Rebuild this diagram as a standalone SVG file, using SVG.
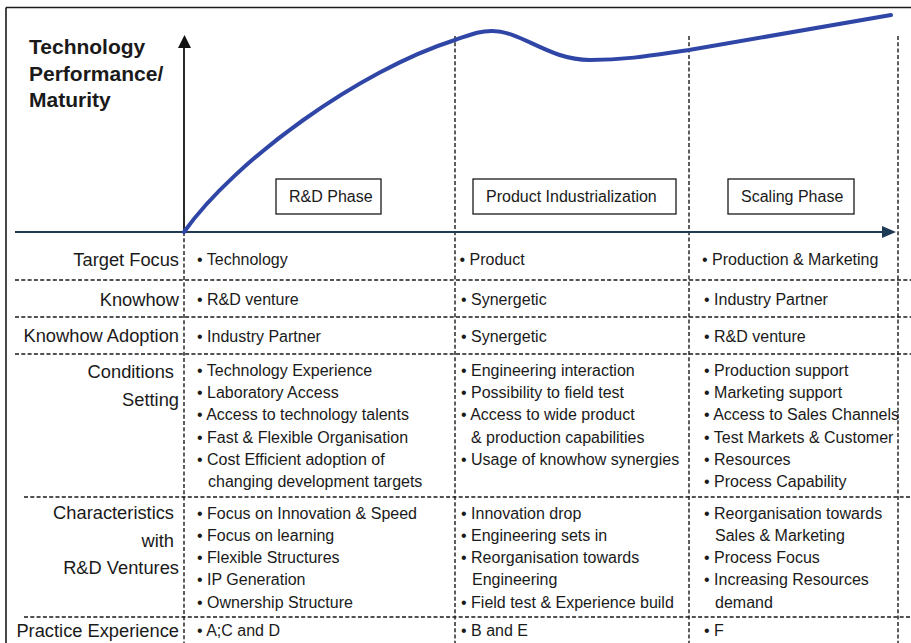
<svg xmlns="http://www.w3.org/2000/svg" width="911" height="643" viewBox="0 0 911 643">
<style>
  text { font-family: "Liberation Sans", Arial, sans-serif; fill: #1a1a1a; }
  .title { font-size: 21px; font-weight: bold; }
  .lab { font-size: 18.3px; text-anchor: end; }
  .b { font-size: 16px; }
  .ph { font-size: 16px; }
  .dash { stroke: #1a1a1a; stroke-width: 1.4; stroke-dasharray: 4 2.3; fill: none; }
  .box { fill: #ffffff; stroke: #1a1a1a; stroke-width: 1.3; }
</style>
<rect x="0" y="0" width="911" height="643" fill="#ffffff"/>

<g id="frame" stroke="#1a1a1a" stroke-width="1.6" fill="none">
  <line x1="6" y1="7.5" x2="911" y2="7.5"/>
  <line x1="6" y1="7.5" x2="6" y2="643"/>
</g>

<g id="title">
  <text class="title" x="29" y="54">Technology</text>
  <text class="title" x="29" y="81">Performance/</text>
  <text class="title" x="29" y="107">Maturity</text>
</g>

<g id="grid">
  <line class="dash" x1="184" y1="232" x2="184" y2="643"/>
  <line class="dash" x1="455" y1="36" x2="455" y2="643"/>
  <line class="dash" x1="689" y1="36" x2="689" y2="643"/>
  <line class="dash" x1="898" y1="36" x2="898" y2="643"/>
  <line class="dash" x1="15" y1="280" x2="911" y2="280"/>
  <line class="dash" x1="15" y1="317" x2="911" y2="317"/>
  <line class="dash" x1="15" y1="354" x2="911" y2="354"/>
  <line class="dash" x1="24" y1="497" x2="911" y2="497"/>
  <line class="dash" x1="24" y1="617" x2="911" y2="617"/>
</g>

<g id="axes">
  <line x1="184" y1="232" x2="184" y2="46" stroke="#111" stroke-width="1.8"/>
  <polygon points="178,48 184.5,35 191,48" fill="#111"/>
  <line x1="15" y1="232" x2="884" y2="232" stroke="#1f3a55" stroke-width="2.2"/>
  <polygon points="882,226 896,232 882,238" fill="#1f3a55"/>
</g>

<g id="curve">
  <path d="M184,232 C235,160 360,70 455,40 C470,35 478,31 492,31 C522,31 548,60 590,60 C630,60 660,54 689,50 L891,15" fill="none" stroke="#2f46a6" stroke-width="4" stroke-linecap="round"/>
</g>

<g id="phase-rd">
  <rect class="box" x="276" y="179" width="105" height="35"/>
  <text class="ph" x="289" y="202">R&amp;D Phase</text>
</g>
<g id="phase-pi">
  <rect class="box" x="473" y="179" width="203" height="35"/>
  <text class="ph" x="486" y="202">Product Industrialization</text>
</g>
<g id="phase-sc">
  <rect class="box" x="728" y="179" width="126" height="35"/>
  <text class="ph" x="741" y="202">Scaling Phase</text>
</g>

<g id="row-labels">
  <text class="lab" x="179" y="266">Target Focus</text>
  <text class="lab" x="179" y="305.5">Knowhow</text>
  <text class="lab" x="179" y="342">Knowhow Adoption</text>
  <text class="lab" x="174" y="378">Conditions</text>
  <text class="lab" x="179" y="405.5">Setting</text>
  <text class="lab" x="174" y="519">Characteristics</text>
  <text class="lab" x="174" y="547">with</text>
  <text class="lab" x="179" y="573.5">R&amp;D Ventures</text>
  <text class="lab" x="179" y="636.5">Practice Experience</text>
</g>

<g id="col-rd">
  <text class="b" x="197" y="265">• Technology</text>
  <text class="b" x="197" y="305">• R&amp;D venture</text>
  <text class="b" x="197" y="341.5">• Industry Partner</text>
  <text class="b" x="197" y="375.5">• Technology Experience</text>
  <text class="b" x="197" y="398">• Laboratory Access</text>
  <text class="b" x="197" y="420.3">• Access to technology talents</text>
  <text class="b" x="197" y="442.7">• Fast &amp; Flexible Organisation</text>
  <text class="b" x="197" y="465">• Cost Efficient adoption of</text>
  <text class="b" x="208" y="487.4">changing development targets</text>
  <text class="b" x="197" y="518.5">• Focus on Innovation &amp; Speed</text>
  <text class="b" x="197" y="540.8">• Focus on learning</text>
  <text class="b" x="197" y="563">• Flexible Structures</text>
  <text class="b" x="197" y="585.3">• IP Generation</text>
  <text class="b" x="197" y="607.6">• Ownership Structure</text>
  <text class="b" x="197" y="636">• A;C and D</text>
</g>

<g id="col-pi">
  <text class="b" x="459.5" y="265">• Product</text>
  <text class="b" x="461" y="305">• Synergetic</text>
  <text class="b" x="461" y="341.5">• Synergetic</text>
  <text class="b" x="461" y="375.5">• Engineering interaction</text>
  <text class="b" x="461" y="398">• Possibility to field test</text>
  <text class="b" x="461" y="420.3">• Access to wide product</text>
  <text class="b" x="471" y="442.7">&amp; production capabilities</text>
  <text class="b" x="461" y="465">• Usage of knowhow synergies</text>
  <text class="b" x="461" y="518.5">• Innovation drop</text>
  <text class="b" x="461" y="540.8">• Engineering sets in</text>
  <text class="b" x="461" y="563">• Reorganisation towards</text>
  <text class="b" x="472" y="585.3">Engineering</text>
  <text class="b" x="461" y="607.6">• Field test &amp; Experience build</text>
  <text class="b" x="461" y="636">• B and E</text>
</g>

<g id="col-sc">
  <text class="b" x="702" y="265">• Production &amp; Marketing</text>
  <text class="b" x="704" y="305">• Industry Partner</text>
  <text class="b" x="704" y="341.5">• R&amp;D venture</text>
  <text class="b" x="704" y="375.5">• Production support</text>
  <text class="b" x="704" y="398">• Marketing support</text>
  <text class="b" x="704" y="420.3">• Access to Sales Channels</text>
  <text class="b" x="704" y="442.7">• Test Markets &amp; Customer</text>
  <text class="b" x="704" y="465">• Resources</text>
  <text class="b" x="704" y="487.4">• Process Capability</text>
  <text class="b" x="704" y="518.5">• Reorganisation towards</text>
  <text class="b" x="715" y="540.8">Sales &amp; Marketing</text>
  <text class="b" x="704" y="563">• Process Focus</text>
  <text class="b" x="704" y="585.3">• Increasing Resources</text>
  <text class="b" x="715" y="607.6">demand</text>
  <text class="b" x="704" y="636">• F</text>
</g>
</svg>
